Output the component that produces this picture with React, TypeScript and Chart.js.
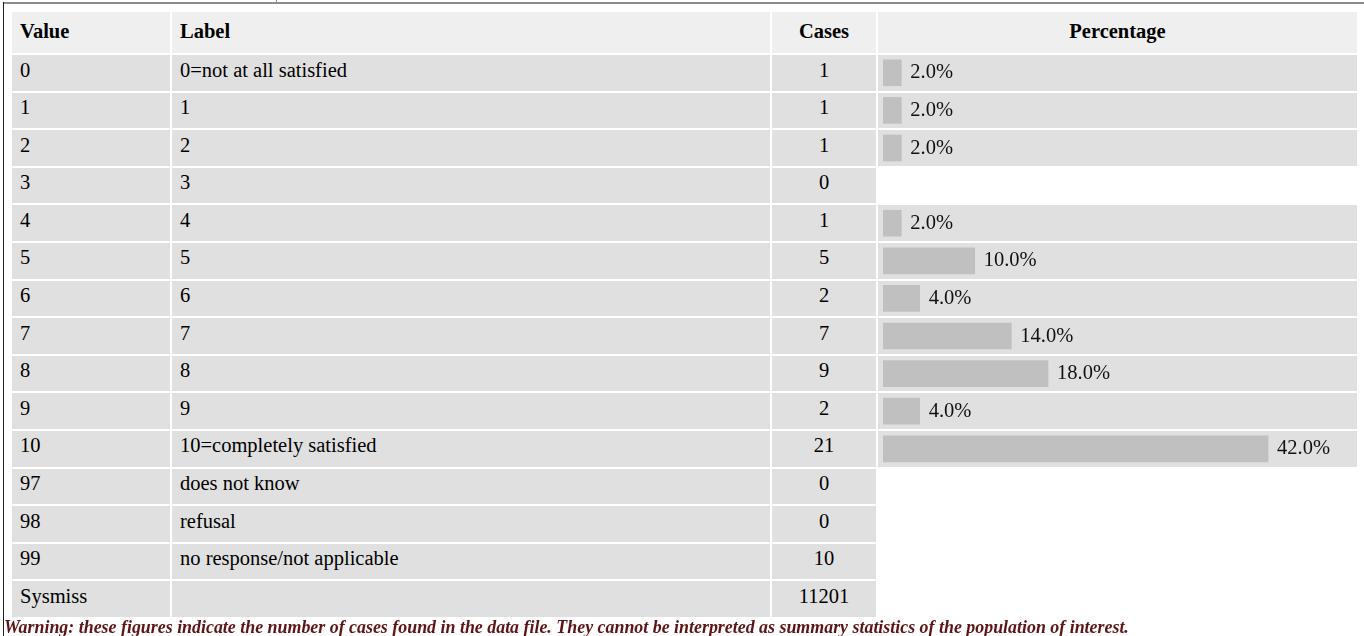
import React, { useEffect, useRef } from "react";
import { Chart, registerables } from "chart.js";

Chart.register(...registerables);

const values = ["0", "1", "2", "3", "4", "5", "6", "7", "8", "9", "10", "97", "98", "99", "Sysmiss"];
const labels = [
  "0=not at all satisfied",
  "1",
  "2",
  "3",
  "4",
  "5",
  "6",
  "7",
  "8",
  "9",
  "10=completely satisfied",
  "does not know",
  "refusal",
  "no response/not applicable",
  "",
];
const cases = [1, 1, 1, 0, 1, 5, 2, 7, 9, 2, 21, 0, 0, 10, 11201];
const percentages: (number | null)[] = [2.0, 2.0, 2.0, null, 2.0, 10.0, 4.0, 14.0, 18.0, 4.0, 42.0, null, null, null, null];
const headers = ["Value", "Label", "Cases", "Percentage"];
const warning =
  "Warning: these figures indicate the number of cases found in the data file. They cannot be interpreted as summary statistics of the population of interest.";

const FONT = "'Liberation Serif', 'Times New Roman', serif";
const FS = 20.5;
const COLS = [158, 598, 104, 479];
const ROW_H = 35.6;
const GAP = 2;

function BarChart() {
  const ref = useRef<HTMLCanvasElement | null>(null);
  useEffect(() => {
    if (!ref.current) return;
    const labelPlugin = {
      id: "pctLabels",
      afterDatasetsDraw(chart: any) {
        const ctx = chart.ctx;
        const meta = chart.getDatasetMeta(0);
        ctx.save();
        ctx.font = `${FS}px ${FONT}`;
        ctx.fillStyle = "#111";
        ctx.textAlign = "left";
        ctx.textBaseline = "alphabetic";
        meta.data.forEach((bar: any, i: number) => {
          const p = percentages[i];
          if (p === null || p === undefined) return;
          ctx.fillText(`${p.toFixed(1)}%`, bar.x + 9, bar.y + 5.5);
        });
        ctx.restore();
      },
    };
    const chart = new Chart(ref.current, {
      type: "bar",
      data: {
        labels: values,
        datasets: [
          {
            data: percentages as any,
            backgroundColor: "#c0c0c0",
            borderWidth: 0,
            barThickness: 26,
          },
        ],
      },
      options: {
        indexAxis: "y",
        animation: false,
        responsive: true,
        maintainAspectRatio: false,
        layout: { padding: 0 },
        plugins: { legend: { display: false }, tooltip: { enabled: false }, title: { display: false } },
        scales: {
          y: { type: "category", display: false, offset: true },
          x: { type: "linear", display: false, min: 0, max: 51.7 },
        },
      },
      plugins: [labelPlugin],
    });
    return () => chart.destroy();
  }, []);
  return (
    <div style={{ position: "absolute", left: 883, top: 54, width: 474, height: 564 }}>
      <canvas ref={ref} />
    </div>
  );
}

export default function App() {
  const cellBase: React.CSSProperties = {
    boxSizing: "border-box",
    fontFamily: FONT,
    fontSize: FS,
    color: "#000",
    whiteSpace: "nowrap",
    overflow: "hidden",
  };
  return (
    <div style={{ position: "absolute", left: 0, top: 0, width: 1364, height: 636, background: "#fff", overflow: "hidden" }}>
      <div style={{ position: "absolute", left: 3, top: 2, width: 1361, height: 2, background: "#8c8c8c" }} />
      <div style={{ position: "absolute", left: 276, top: 0, width: 1, height: 3, background: "#8c8c8c" }} />
      <div style={{ position: "absolute", left: 3, top: 2, width: 1, height: 634, background: "#222" }} />
      <div style={{ position: "absolute", left: 12, top: 12, display: "flex", flexDirection: "column", gap: GAP }}>
        <div style={{ display: "flex", gap: GAP, height: 41 }}>
          {headers.map((h, j) => (
            <div
              key={h}
              style={{
                ...cellBase,
                width: COLS[j],
                height: 41,
                background: "#efefef",
                fontWeight: "bold",
                paddingTop: 7.5,
                textAlign: j >= 2 ? "center" : "left",
                paddingLeft: j >= 2 ? 0 : 8,
              }}
            >
              {h}
            </div>
          ))}
        </div>
        {values.map((v, i) => (
          <div key={v} style={{ display: "flex", gap: GAP, height: ROW_H }}>
            <div style={{ ...cellBase, width: COLS[0], height: ROW_H, background: "#e0e0e0", padding: "3.5px 8px 0" }}>{v}</div>
            <div style={{ ...cellBase, width: COLS[1], height: ROW_H, background: "#e0e0e0", padding: "3.5px 8px 0" }}>{labels[i]}</div>
            <div
              style={{ ...cellBase, width: COLS[2], height: ROW_H, background: "#e0e0e0", padding: "3.5px 0 0", textAlign: "center" }}
            >
              {cases[i]}
            </div>
            <div
              style={{
                ...cellBase,
                width: COLS[3],
                height: ROW_H,
                background: percentages[i] !== null ? "#e0e0e0" : "transparent",
              }}
            />
          </div>
        ))}
      </div>
      <BarChart />
      <div
        style={{
          position: "absolute",
          left: 4,
          top: 617,
          fontFamily: FONT,
          fontSize: 17.9,
          fontWeight: "bold",
          fontStyle: "italic",
          color: "#5e1414",
          whiteSpace: "nowrap",
        }}
      >
        {warning}
      </div>
    </div>
  );
}
